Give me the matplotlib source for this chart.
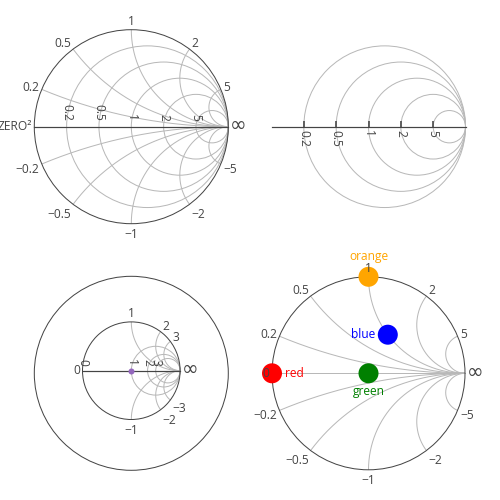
import numpy as np
import matplotlib
matplotlib.use("Agg")
import matplotlib.pyplot as plt
from matplotlib.patches import Circle

plt.rcParams['font.family'] = ['Open Sans', 'DejaVu Sans']

# ---------------- data ----------------
tl_real = [0.2, 0.5, 1, 2, 5]
tl_imag = [0.2, 0.5, 1, 2, 5, -0.2, -0.5, -1, -2, -5]
tl_zero_label = "ZERO\u00b2"

tr_real = [0.2, 0.5, 1, 2, 5]

bl_real_ticks = [0, 1, 2, 3]
bl_real_grid = [1, 2, 3]
bl_imag = [1, 2, 3, -1, -2, -3]
bl_point = [1 + 0j]

br_imag = [0.2, 0.5, 1, 2, 5, -0.2, -0.5, -1, -2, -5]
br_names = ["red", "orange", "blue", "green"]
br_z = [0 + 0j, 0 + 1j, 1 + 1j, 1 + 0j]
br_textpos = ["right", "top", "left", "bottom"]
br_colors = ["#ff0000", "#ffa500", "#0000ff", "#008000"]

# ---------------- style ----------------
W = H = 500
DPI = 100
PT = 72.0 / DPI           # points per pixel
FS = 12                   # px
TXT = "#444444"
GRID = "#b8b8b8"
LINE = "#444444"

fig = plt.figure(figsize=(W / DPI, H / DPI), dpi=DPI)


def gamma(z):
    z = complex(z)
    return (z - 1) / (z + 1)


def fmt(v):
    s = ("%g" % v)
    return s.replace("-", "\u2212")


def smith_axes(cx, cy, R, L=1.35):
    h = R * L
    ax = fig.add_axes([(cx - h) / W, (H - cy - h) / H, 2 * h / W, 2 * h / H])
    ax.set_xlim(-L, L)
    ax.set_ylim(-L, L)
    ax.axis("off")
    return ax


def res_circle(ax, r, color=GRID, lw=1.0, z=1):
    c = r / (1 + r)
    rad = 1 / (1 + r)
    ax.add_patch(Circle((c, 0), rad, fill=False, ec=color, lw=lw * PT, zorder=z))


def react_arc(ax, x, color=GRID, lw=1.0, z=1):
    rs = np.concatenate([np.linspace(0, 1, 200), np.geomspace(1, 1e6, 400)])
    g = (rs + 1j * x - 1) / (rs + 1j * x + 1)
    g = np.append(g, 1 + 0j)
    ax.plot(g.real, g.imag, color=color, lw=lw * PT, zorder=z, solid_capstyle="butt")


def imag_label(ax, g, text, pad=2.6, fs=FS, k=0.3, size=None):
    ang = np.angle(g)
    c, s = np.cos(ang), np.sin(ang)
    dx = c * pad
    ff = 0.2 if s > 0 else 1.0
    dy_down = -s * (pad + fs * ff) + abs(c) * fs * k
    ha = "center" if abs(c) < 0.1 else ("left" if c > 0 else "right")
    ax.annotate(text, xy=(g.real, g.imag), xytext=(dx * PT, -dy_down * PT),
                textcoords="offset points", ha=ha, va="baseline",
                fontsize=(size or fs) * PT, color=TXT, zorder=10,
                annotation_clip=False)


def inf_label(ax):
    ax.annotate("\u221e", xy=(1, 0), xytext=(1.5 * PT, -4.5 * PT),
                textcoords="offset points", ha="left", va="baseline",
                fontsize=20 * PT, color=TXT, zorder=10,
                family=["DejaVu Sans"], annotation_clip=False)


def real_label(ax, r, above=True, gap=6.0):
    g = gamma(r)
    off = gap if above else -gap
    ax.annotate(fmt(r), xy=(g.real, 0), xytext=(0, off * PT),
                textcoords="offset points", ha="center",
                va="bottom" if above else "top", rotation=-90,
                fontsize=FS * PT, color=TXT, zorder=10, annotation_clip=False)


# ---------------- top-left ----------------
ax1 = smith_axes(131.3, 126.7, 97)
for r in tl_real:
    res_circle(ax1, r)
for x in tl_imag:
    react_arc(ax1, x)
ax1.add_patch(Circle((0, 0), 1, fill=False, ec=LINE, lw=1.0 * PT, zorder=3))
ax1.plot([-1, 1], [0, 0], color=LINE, lw=1.2 * PT, zorder=3)
for r in tl_real:
    real_label(ax1, r, above=True, gap=6.0)
for x in tl_imag:
    imag_label(ax1, gamma(1j * x), fmt(x))
imag_label(ax1, complex(-1, 0), tl_zero_label)
inf_label(ax1)

# ---------------- top-right ----------------
ax2 = smith_axes(368.5, 126.7, 97)
for r in tr_real:
    res_circle(ax2, r)
ax2.plot([-1, 1], [0, 0], color=LINE, lw=1.2 * PT, zorder=3)
for r in tr_real:
    g = gamma(r).real
    ax2.plot([g, g], [0, 6.0 / 97], color=LINE, lw=1.6 * PT, zorder=3,
             solid_capstyle="butt")
    real_label(ax2, r, above=False, gap=3.0)

# ---------------- bottom-left ----------------
ax3o = smith_axes(131.3, 373.3, 97)
ax3o.add_patch(Circle((0, 0), 1, fill=False, ec=LINE, lw=1.0 * PT, zorder=3))
ax3 = smith_axes(131.3, 370.7, 48.8, L=2.7)
for r in bl_real_grid:
    res_circle(ax3, r)
for x in bl_imag:
    react_arc(ax3, x)
ax3.add_patch(Circle((0, 0), 1, fill=False, ec=LINE, lw=1.0 * PT, zorder=3))
ax3.plot([-1, 1], [0, 0], color=LINE, lw=1.2 * PT, zorder=3)
for r in bl_real_ticks:
    real_label(ax3, r, above=True, gap=4.5)
for x in bl_imag:
    imag_label(ax3, gamma(1j * x), fmt(x))
imag_label(ax3, complex(-1, 0), "0")
inf_label(ax3)
gp = [gamma(z) for z in bl_point]
ax3.scatter([g.real for g in gp], [g.imag for g in gp], s=(6 * PT) ** 2,
            color="#9467bd", zorder=6, linewidths=0)

# ---------------- bottom-right ----------------
ax4 = smith_axes(368.5, 373.3, 96.5)
for x in br_imag:
    react_arc(ax4, x)
ax4.plot([-1, 1], [0, 0], color=GRID, lw=1.0 * PT, zorder=1)
ax4.add_patch(Circle((0, 0), 1, fill=False, ec=LINE, lw=1.0 * PT, zorder=3))
for x in br_imag:
    imag_label(ax4, gamma(1j * x), fmt(x))
imag_label(ax4, complex(-1, 0), "0")
inf_label(ax4)
gs = [gamma(z) for z in br_z]
ax4.scatter([g.real for g in gs], [g.imag for g in gs], s=(20 * PT) ** 2,
            c=br_colors, zorder=5, linewidths=0, clip_on=False)
off = 13 * PT
for g, name, pos, col in zip(gs, br_names, br_textpos, br_colors):
    if pos == "right":
        xy, ha, va = (off, 0), "left", "center"
    elif pos == "left":
        xy, ha, va = (-off, 0), "right", "center"
    elif pos == "top":
        xy, ha, va = (0, off + 1.0 * PT), "center", "bottom"
    else:
        xy, ha, va = (0, -off + 1.0 * PT), "center", "top"
    ax4.annotate(name, xy=(g.real, g.imag), xytext=xy, textcoords="offset points",
                 ha=ha, va=va, fontsize=FS * PT, color=col, zorder=7,
                 annotation_clip=False)

fig.savefig("out.png", dpi=DPI)
